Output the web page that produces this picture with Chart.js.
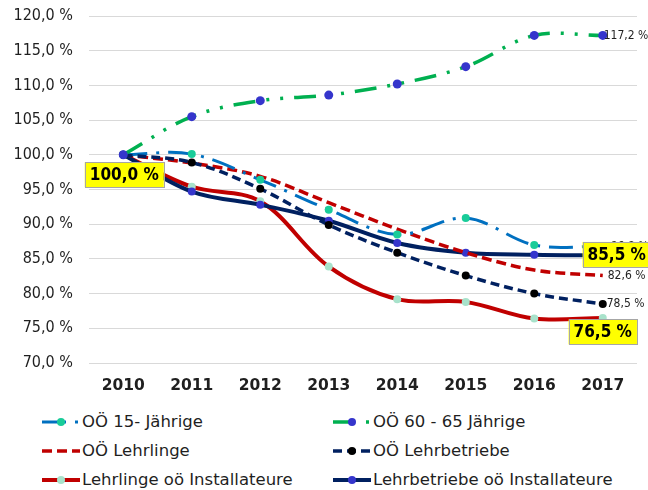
<!DOCTYPE html>
<html>
<head>
<meta charset="utf-8">
<script src="https://cdn.jsdelivr.net/npm/chart.js@4"></script>
<style>
  body { margin: 0; background: #fff; }
  #wrap { position: relative; width: 648px; height: 490px; font-family: "DejaVu Sans", sans-serif; color: #1f1f1f; }
  #box { position: absolute; left: 0; top: 0; width: 648px; height: 400px; }
  #legend { position: absolute; left: 42px; top: 407px; width: 606px; display: grid; grid-template-columns: 291px 291px; row-gap: 0; }
  .item { display: flex; align-items: center; height: 29px; font-size: 16.5px; white-space: nowrap; }
  .item svg { margin-right: 1px; flex: none; }
</style>
</head>
<body>
<div id="wrap">
  <div id="box"><canvas id="chart"></canvas></div>
  <div id="legend"></div>
</div>
<script>
// Werte (Index 2010 = 100 %)
const years = ['2010', '2011', '2012', '2013', '2014', '2015', '2016', '2017'];
const jaehrige15 = [100, 100.1, 96.4, 92.1, 88.5, 90.9, 87.0, 86.8];
const jaehrige6065 = [100, 105.5, 107.8, 108.6, 110.2, 112.7, 117.2, 117.2];
const lehrlinge = [100, 98.8, 96.9, 93.1, 89.3, 85.9, 83.4, 82.6];
const lehrbetriebe = [100, 98.9, 95.1, 89.9, 85.9, 82.6, 80.0, 78.5];
const lehrlingeInst = [100, 95.4, 93.3, 83.9, 79.2, 78.8, 76.4, 76.5];
const lehrbetriebeInst = [100, 94.7, 92.8, 90.5, 87.3, 85.9, 85.6, 85.5];
const yTicks = [70, 75, 80, 85, 90, 95, 100, 105, 110, 115, 120];

const fmt = v => v.toFixed(1).replace('.', ',') + ' %';
const narrow = '"DejaVu Sans Condensed", "DejaVu Sans"';

const datasets = [
  { label: 'OÖ 15- Jährige', data: jaehrige15, borderColor: '#0070C0', borderWidth: 3,
    borderDash: [24, 9, 3, 9], pointBackgroundColor: '#19CC99', pointRadius: 4, order: 3 },
  { label: 'OÖ 60 - 65 Jährige', data: jaehrige6065, borderColor: '#00B050', borderWidth: 3.5,
    borderDash: [22, 11, 3, 11, 3, 11], pointBackgroundColor: '#3535CC', pointRadius: 4.5, order: 1 },
  { label: 'OÖ Lehrlinge', data: lehrlinge, borderColor: '#C00000', borderWidth: 3.5,
    borderDash: [10, 5], pointBackgroundColor: '#C00000', pointRadius: 0, order: 4 },
  { label: 'OÖ Lehrbetriebe', data: lehrbetriebe, borderColor: '#002060', borderWidth: 3.5,
    borderDash: [9, 5], pointBackgroundColor: '#000000', pointRadius: 4, order: 2 },
  { label: 'Lehrlinge oö Installateure', data: lehrlingeInst, borderColor: '#C00000', borderWidth: 4,
    borderDash: [], pointBackgroundColor: '#A8E2CB', pointRadius: 4, order: 6 },
  { label: 'Lehrbetriebe oö Installateure', data: lehrbetriebeInst, borderColor: '#002060', borderWidth: 4,
    borderDash: [], pointBackgroundColor: '#3535CC', pointRadius: 4, order: 5 }
];
datasets.forEach(d => {
  d.tension = 0.35;
  d.fill = false;
  d.pointBorderWidth = 0;
  d.pointBorderColor = d.pointBackgroundColor;
  d.backgroundColor = d.borderColor;
});

// Datenbeschriftungen: [Datensatz, Index, Stil, dx, dy]
const dataLabels = [
  [1, 7, 'plain', 1, 0],
  [0, 7, 'plain', 8, 0],
  [2, 7, 'plain', 5, 0],
  [3, 7, 'plain', 4, 0],
  [0, 0, 'box', 1, 20],
  [5, 7, 'box', 14, -1],
  [4, 7, 'box', 0, 14]
];

const labelPlugin = {
  id: 'labels',
  afterDatasetsDraw(chart) {
    const ctx = chart.ctx;
    ctx.save();
    ctx.textBaseline = 'middle';
    dataLabels.forEach(([di, i, style, dx, dy]) => {
      const pt = chart.getDatasetMeta(di).data[i];
      const text = fmt(chart.data.datasets[di].data[i]);
      if (style === 'plain') {
        ctx.font = '12px ' + narrow;
        ctx.fillStyle = '#1f1f1f';
        ctx.textAlign = 'left';
        ctx.fillText(text, pt.x + dx, pt.y + dy);
      } else {
        ctx.font = 'bold 17px ' + narrow;
        const w = ctx.measureText(text).width + 10;
        const h = 25;
        const cx = pt.x + dx, cy = pt.y + dy;
        ctx.fillStyle = '#FFFF00';
        ctx.fillRect(cx - w / 2, cy - h / 2, w, h);
        ctx.strokeStyle = '#A6A6A6';
        ctx.lineWidth = 1;
        ctx.strokeRect(Math.round(cx - w / 2) + 0.5, Math.round(cy - h / 2) + 0.5, Math.round(w), h);
        ctx.fillStyle = '#000';
        ctx.textAlign = 'center';
        ctx.fillText(text, cx, cy + 1);
      }
    });
    ctx.restore();
  }
};

const chart = new Chart(document.getElementById('chart'), {
  type: 'line',
  data: { labels: years, datasets: datasets },
  options: {
    responsive: true,
    maintainAspectRatio: false,
    animation: false,
    layout: { padding: { left: 0, right: 11, top: 16, bottom: 0 } },
    plugins: { legend: { display: false }, tooltip: { enabled: false } },
    scales: {
      x: {
        offset: true,
        grid: { display: false },
        border: { display: false },
        ticks: { color: '#1f1f1f', padding: 6, font: { family: 'DejaVu Sans', size: 15.5, weight: 'bold' } },
        afterFit: s => { s.height = 37; }
      },
      y: {
        min: 70, max: 120,
        afterBuildTicks: s => { s.ticks = yTicks.map(v => ({ value: v })); },
        grid: { color: '#D9D9D9', lineWidth: 1, drawTicks: false },
        border: { display: false },
        ticks: { color: '#1f1f1f', padding: 16, font: { family: narrow, size: 16 }, callback: v => fmt(v) },
        afterFit: s => { s.width = 89; s.paddingTop = 0; s.paddingBottom = 0; }
      }
    }
  },
  plugins: [labelPlugin]
});

// Legende in zwei Spalten
const legend = document.getElementById('legend');
chart.data.datasets.forEach(d => {
  const item = document.createElement('div');
  item.className = 'item';
  const dash = d.borderDash.length ? ' stroke-dasharray="' + d.borderDash.join(' ') + '"' : '';
  const dot = d.pointRadius > 0 ? '<circle cx="19" cy="8" r="4" fill="' + d.pointBackgroundColor + '"/>' : '';
  item.innerHTML = '<svg width="39" height="16"><line x1="0" y1="8" x2="38" y2="8" stroke="' + d.borderColor +
    '" stroke-width="' + d.borderWidth + '"' + dash + '/>' + dot + '</svg><span>' + d.label + '</span>';
  legend.appendChild(item);
});
</script>
</body>
</html>
